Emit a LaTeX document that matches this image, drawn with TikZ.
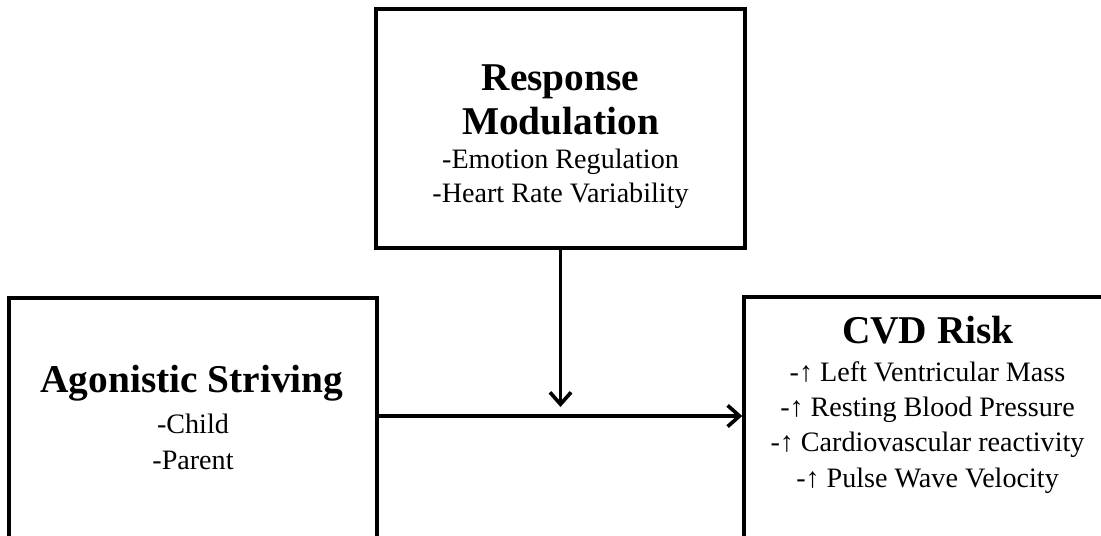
\documentclass[tikz,border=0pt]{standalone}
\usepackage{fontspec}
\setmainfont{Liberation Serif}
\usetikzlibrary{arrows.meta,positioning}

\begin{document}
\begin{tikzpicture}[x=0.025cm, y=-0.025cm,
            box/.style = {draw, line width=2.3pt, rectangle, inner sep=0pt},
            heading/.style = {align=center, inner sep=0pt, font=\fontsize{28}{31.5}\selectfont\bfseries},
            detail/.style = {align=center, inner sep=0pt, font=\fontsize{20}{24}\selectfont},
            link/.style = {line width=2.6pt, -{Straight Barb[length=8.5pt,width=15pt,line width=2.6pt]}}
            ]
    \useasboundingbox (0,0) rectangle (1101,535);
    \clip (0,0) rectangle (1101,535);
    \node[box, minimum width=9.225cm, minimum height=5.975cm] (rm) at (560.5,128.5) {};
    \node[box, minimum width=9.2cm, minimum height=6.55cm] (as) at (193,429) {};
    \node[box, minimum width=9.65cm, minimum height=6.575cm] (cvd) at (937,428.5) {};

    \node[heading] (rmhead) at (560.5,100) {Response\\Modulation};
    \node[detail] (rmlist) at (560.5,179) {-Emotion Regulation\\-Heart Rate Variability};

    \node[heading] (ashead) at (192,383) {Agonistic Striving};
    \node[detail, font=\fontsize{20}{26}\selectfont] (aslist) at (193,442) {-Child\\-Parent};

    \node[heading] (cvdhead) at (928,330) {CVD Risk};
    \node[detail, font=\fontsize{20}{25}\selectfont] (cvdlist) at (927.5,427.5)
        {-↑ Left Ventricular Mass\\-↑ Resting Blood Pressure\\-↑ Cardiovascular reactivity\\-↑ Pulse Wave Velocity};

    \coordinate (meet) at (560.5,407);
    \coordinate (mid) at (560,416);
    \draw[link] (rm.south) -- (meet);
    \draw[link] (as.east |- mid) -- (cvd.west |- mid);
\end{tikzpicture}
\end{document}
